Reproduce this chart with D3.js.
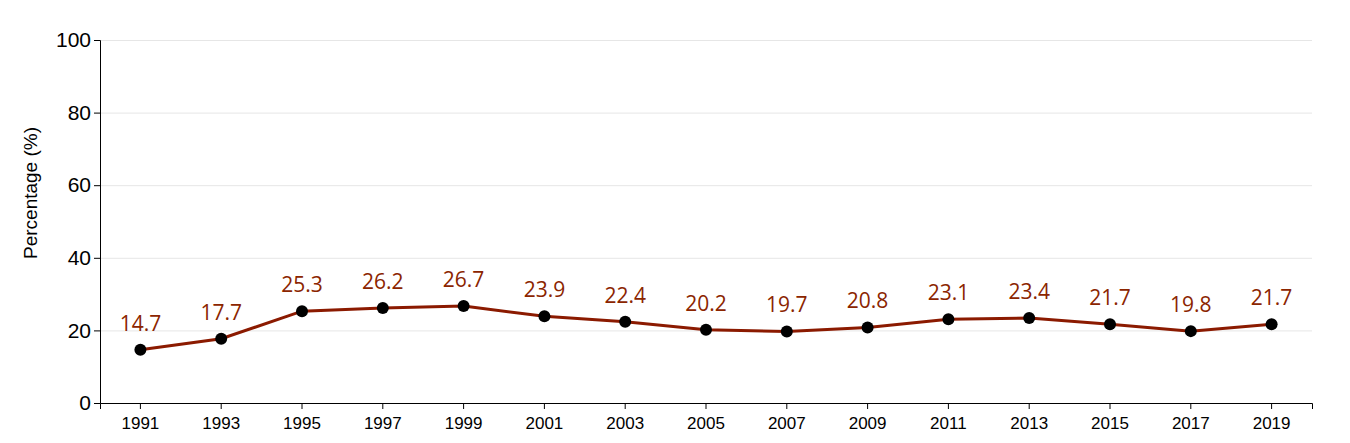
<!DOCTYPE html>
<html>
<head>
<meta charset="utf-8">
<script src="https://d3js.org/d3.v7.min.js"></script>
<style>
  body { margin: 0; background: #fff; }
  .axis text { font-family: "Liberation Sans", Arial, sans-serif; fill: #000; }
  .axis path, .axis line { stroke: #000; }
  .grid line { stroke: #e6e6e6; stroke-width: 1; }
  .grid path { display: none; }
</style>
</head>
<body>
<script>
// chart values
var years = ["1991", "1993", "1995", "1997", "1999", "2001", "2003", "2005", "2007", "2009", "2011", "2013", "2015", "2017", "2019"]
var percentages = [14.7, 17.7, 25.3, 26.2, 26.7, 23.9, 22.4, 20.2, 19.7, 20.8, 23.1, 23.4, 21.7, 19.8, 21.7]
var yTicks = [0, 20, 40, 60, 80, 100]

var width = 1350, height = 443
var margin = {top: 40, right: 38, bottom: 40, left: 100}

var svg = d3.select("body").append("svg")
    .attr("width", width)
    .attr("height", height)

var x = d3.scaleBand()
    .domain(years)
    .range([margin.left, width - margin.right])

var y = d3.scaleLinear()
    .domain([0, 100])
    .range([height - margin.bottom, margin.top])

// grid lines
svg.append("g")
    .attr("class", "grid")
    .attr("transform", "translate(" + margin.left + ",0)")
    .call(d3.axisLeft(y).tickValues(yTicks).tickSize(-(width - margin.right - margin.left)).tickFormat(""))

svg.append("g")
    .attr("class", "axis")
    .attr("transform", "translate(0," + (height - margin.bottom) + ")")
    .call(d3.axisBottom(x).tickSizeOuter(6))
    .selectAll("text").attr("dy", "1.0em").style("font-size", "17px")

svg.append("g")
    .attr("class", "axis")
    .attr("transform", "translate(" + margin.left + ",0)")
    .call(d3.axisLeft(y).tickValues(yTicks))
    .selectAll("text").style("font-size", "21px")

svg.append("text")
    .attr("transform", "translate(37,193) rotate(-90)")
    .attr("text-anchor", "middle")
    .style("font-family", "Liberation Sans, Arial, sans-serif")
    .style("font-size", "19px")
    .text("Percentage (%)")

var data = years.map(function(d, i) { return {year: d, value: percentages[i]} })

var line = d3.line()
    .x(function(d) { return x(d.year) + x.bandwidth() / 2 })
    .y(function(d) { return y(d.value) })

svg.append("path")
    .datum(data)
    .attr("d", line)
    .attr("fill", "none")
    .attr("stroke", "#8b1a00")
    .attr("stroke-width", 3)

svg.selectAll(".dot")
    .data(data)
    .enter().append("circle")
    .attr("class", "dot")
    .attr("cx", function(d) { return x(d.year) + x.bandwidth() / 2 })
    .attr("cy", function(d) { return y(d.value) })
    .attr("r", 6)
    .attr("fill", "#000")

svg.selectAll(".label")
    .data(data)
    .enter().append("text")
    .attr("class", "label")
    .attr("x", function(d) { return x(d.year) + x.bandwidth() / 2 })
    .attr("y", function(d) { return y(d.value) - 19 })
    .attr("text-anchor", "middle")
    .style("font-family", "Open Sans, sans-serif")
    .style("font-size", "21px")
    .style("fill", "#8b2500")
    .text(function(d) { return d.value.toFixed(1) })
</script>
</body>
</html>
